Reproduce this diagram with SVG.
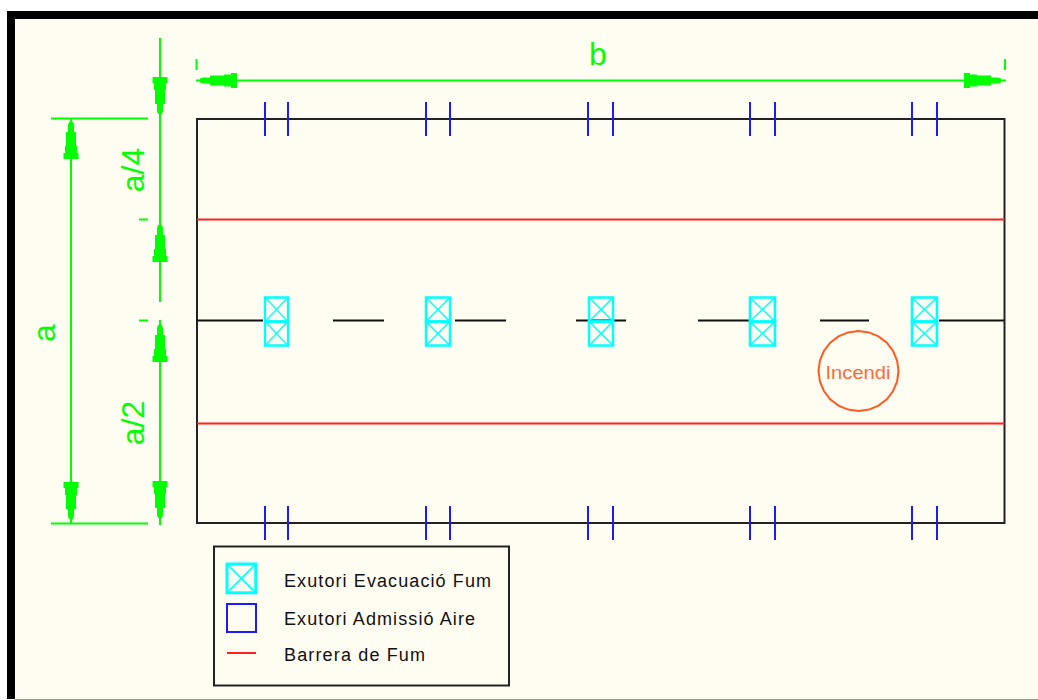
<svg xmlns="http://www.w3.org/2000/svg" xmlns:xlink="http://www.w3.org/1999/xlink" width="1038" height="700" viewBox="0 0 1038 700">
<style>
text{font-family:"Liberation Sans",Arial,sans-serif}
.blk{stroke:#222;stroke-width:2;fill:none}
.dash{stroke:#111;stroke-width:2;fill:none}
.red{stroke:#ff2020;stroke-width:2;fill:none}
.grn{stroke:#00ff00;stroke-width:2;fill:none}
.blu{stroke:#1a1aff;stroke-width:2;fill:none}
.cyan{stroke:#00ffff;stroke-width:2.500;fill:none}
.cyanx{stroke:#00ffff;stroke-width:1.400;fill:none}
.leg{fill:#111;font-size:18px}
</style>
<defs>
<path id="ah" d="M-2 0H2L3 3V10H5V24H6V31H7.500V37H-7.500V31H-6V24H-5V10H-3V3Z" fill="#00ff00"/>
<g id="ex"><rect class="cyan" x="0" y="0" width="24" height="24"/><path class="cyanx" d="M0 0L24 24M24 0L0 24"/></g>
</defs>
<rect width="1038" height="700" fill="#fffcf2"/>
<g id="frame">
<path d="M7 11H1038V19H15V699H7Z" fill="#000"/>
<path d="M15 699.500H1038" stroke="#999" stroke-width="1"/>
</g>
<g id="connectors">
<path class="blk" d="M197 119H1004.500V523H197Z"/>
<path class="red" d="M197 219.500H1004.500M197 423.500H1004.500"/>
<path class="dash" d="M197 320.500H263M333 320.500H384M455 320.500H506M576 320.500H626M698 320.500H749M820 320.500H869M939 320.500H1004"/>
<path class="grn" d="M71 118V523M51 118.500H148M51 523.500H148M160 38V302M160 320V525M139 219.500H148M139 320.500H148M196 80.500H1006M196.500 59V70M1005 59V70"/>
<use xlink:href="#ah" transform="translate(71 122)"/>
<use xlink:href="#ah" transform="translate(71 519) rotate(180)"/>
<use xlink:href="#ah" transform="translate(160 114) rotate(180)"/>
<use xlink:href="#ah" transform="translate(160 225)"/>
<use xlink:href="#ah" transform="translate(160 325)"/>
<use xlink:href="#ah" transform="translate(160 518) rotate(180)"/>
<use xlink:href="#ah" transform="translate(200 80.500) rotate(-90)"/>
<use xlink:href="#ah" transform="translate(1001 80.500) rotate(90)"/>
</g>
<g id="admissio-top">
<path class="blu" d="M265 102V136M288 102V136M426 102V136M450 102V136M588 102V136M613 102V136M750 102V136M775 102V136M912 102V136M937 102V136"/>
</g>
<g id="admissio-bottom">
<path class="blu" d="M265 506V540M288 506V540M426 506V540M450 506V540M588 506V540M613 506V540M750 506V540M775 506V540M912 506V540M937 506V540"/>
</g>
<g id="exutoris">
<use xlink:href="#ex" transform="translate(265 297.500) scale(.96 1)"/><use xlink:href="#ex" transform="translate(265 321.500) scale(.96 1)"/>
<use xlink:href="#ex" x="426" y="297.500"/><use xlink:href="#ex" x="426" y="321.500"/>
<use xlink:href="#ex" x="589" y="297.500"/><use xlink:href="#ex" x="589" y="321.500"/>
<use xlink:href="#ex" transform="translate(750 297.500) scale(1.04 1)"/><use xlink:href="#ex" transform="translate(750 321.500) scale(1.04 1)"/>
<use xlink:href="#ex" transform="translate(912 297.500) scale(1.04 1)"/><use xlink:href="#ex" transform="translate(912 321.500) scale(1.04 1)"/>
</g>
<g id="incendi">
<polygon fill="none" stroke="#ff5a20" stroke-width="2" transform="translate(858.500 371)" points="40,0 38.600,10.400 34.600,20 28.300,28.300 20,34.600 10.400,38.600 0,40 -10.400,38.600 -20,34.600 -28.300,28.300 -34.600,20 -38.600,10.400 -40,0 -38.600,-10.400 -34.600,-20 -28.300,-28.300 -20,-34.600 -10.400,-38.600 0,-40 10.400,-38.600 20,-34.600 28.300,-28.300 34.600,-20 38.600,-10.400"/>
<text x="858" y="379" text-anchor="middle" font-size="19" fill="#ff6a3a" textLength="65" lengthAdjust="spacingAndGlyphs">Incendi</text>
</g>
<g id="dimensions" fill="#00ff00" font-size="32">
<text x="598" y="65" text-anchor="middle">b</text>
<text transform="translate(55 333) rotate(-90)" text-anchor="middle">a</text>
<text transform="translate(144 170) rotate(-90)" text-anchor="middle">a/4</text>
<text transform="translate(144 423) rotate(-90)" text-anchor="middle">a/2</text>
</g>
<g id="legend">
<rect class="blk" x="214" y="546.500" width="295" height="139"/>
<g transform="translate(227 564) scale(1.2)"><use xlink:href="#ex"/></g>
<rect class="blu" x="227" y="604" width="29" height="28"/>
<path class="red" d="M227 653H256"/>
<text class="leg" x="284" y="587" textLength="207" lengthAdjust="spacing">Exutori Evacuació Fum</text>
<text class="leg" x="284" y="625" textLength="191" lengthAdjust="spacing">Exutori Admissió Aire</text>
<text class="leg" x="284" y="661" textLength="141" lengthAdjust="spacing">Barrera de Fum</text>
</g>
<rect x="0" y="0" width="1038" height="11" fill="#fff"/>
<rect x="0" y="11" width="7" height="689" fill="#fff"/>
</svg>
